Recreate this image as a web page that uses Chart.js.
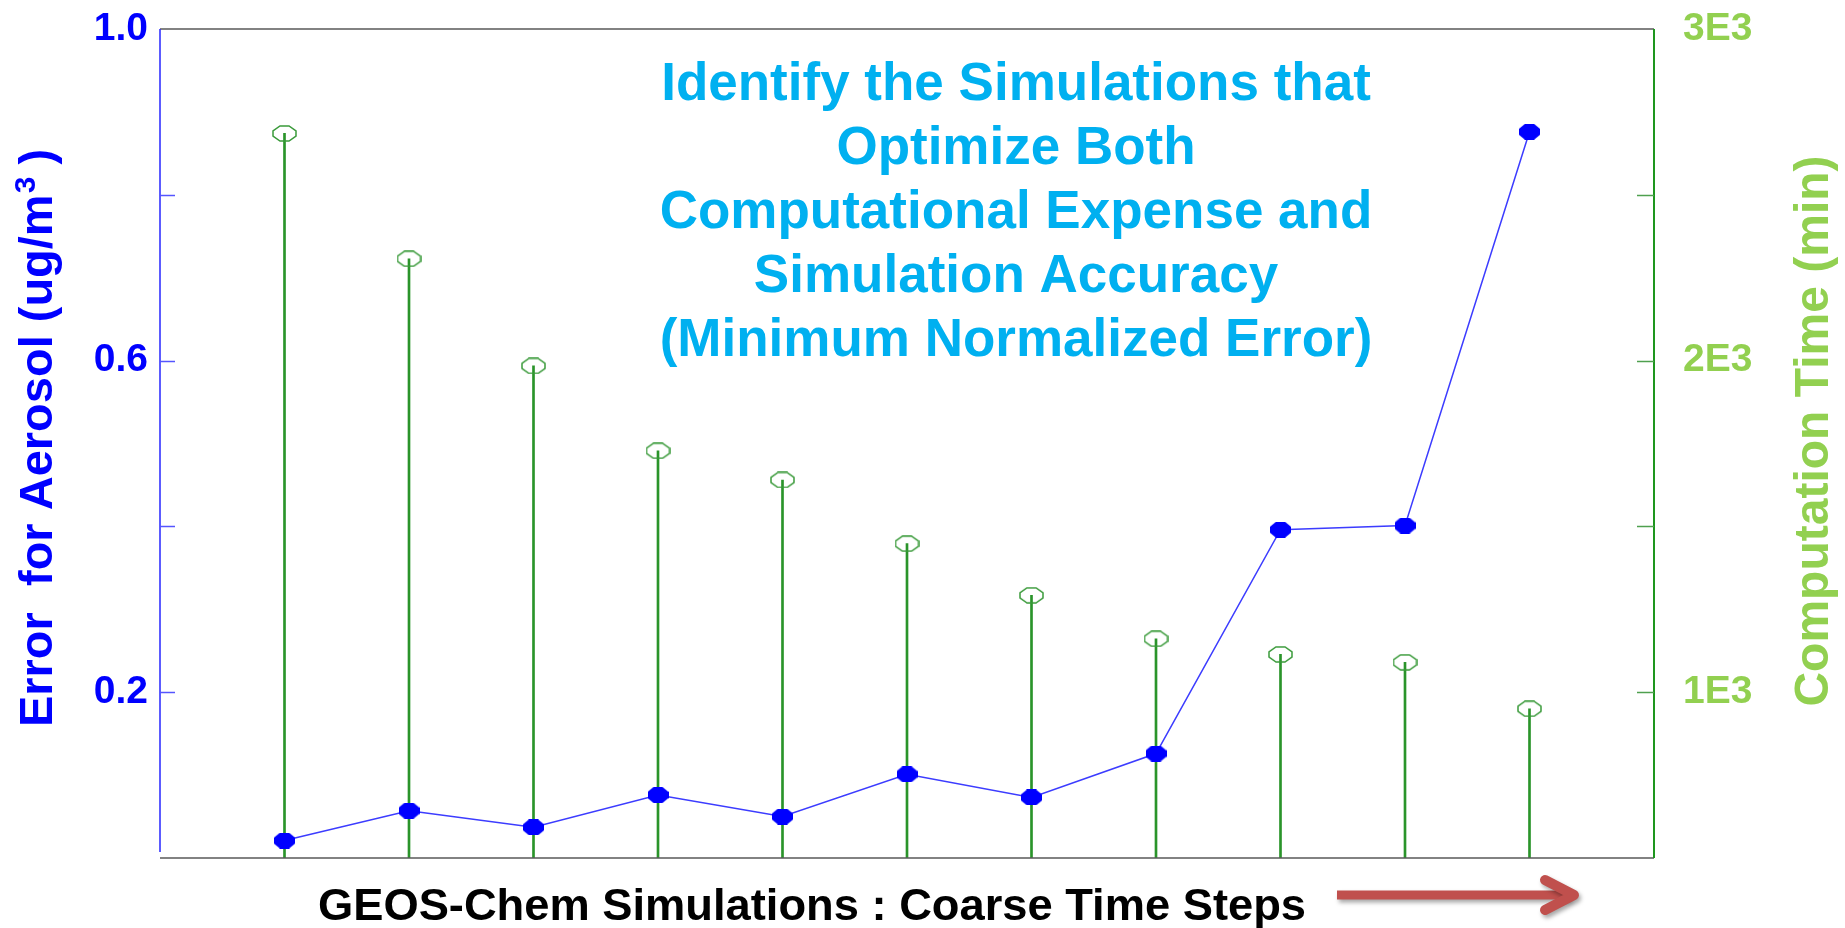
<!DOCTYPE html>
<html>
<head>
<meta charset="utf-8">
<script src="https://cdn.jsdelivr.net/npm/chart.js@4.4.1/dist/chart.umd.min.js"></script>
<style>
  html, body { margin: 0; padding: 0; background: #ffffff; }
  canvas { display: block; }
</style>
</head>
<body>
<canvas id="c" width="1845" height="928"></canvas>
<script>
// ---- data ----
const categories = [1, 2, 3, 4, 5, 6, 7, 8, 9, 10, 11];
const errorValues = [0.021, 0.057, 0.037, 0.076, 0.050, 0.101, 0.073, 0.126, 0.396, 0.401, 0.876];
const timeValues = [2685, 2307, 1984, 1728, 1640, 1448, 1292, 1161, 1114, 1090, 950];
const leftTickValues = [0.2, 0.6, 1.0];
const leftTickLabels = ['0.2', '0.6', '1.0'];
const rightTickValues = [1000, 2000, 3000];
const rightTickLabels = ['1E3', '2E3', '3E3'];
const titleLines = [
  'Identify the Simulations that',
  'Optimize Both',
  'Computational Expense and',
  'Simulation Accuracy',
  '(Minimum Normalized Error)'
];
const xTitle = 'GEOS-Chem Simulations : Coarse Time Steps';
const leftTitleMain = 'Error  for Aerosol (ug/m';
const leftTitleSup = '3';
const leftTitleEnd = ' )';
const rightTitle = 'Computation Time (min)';

const FONT = '"Liberation Sans", Arial, sans-serif';
Chart.defaults.font.family = FONT;

function makeMarker(w, h, pts, fill, stroke, lw) {
  const cv = document.createElement('canvas');
  cv.width = w; cv.height = h;
  const g = cv.getContext('2d');
  g.beginPath();
  pts.forEach((p, i) => i ? g.lineTo(p[0], p[1]) : g.moveTo(p[0], p[1]));
  g.closePath();
  if (fill) { g.fillStyle = fill; g.fill(); }
  if (stroke) { g.strokeStyle = stroke; g.lineWidth = lw; g.stroke(); }
  return cv;
}
const blueMarker = makeMarker(21, 16,
  [[6,0],[15,0],[21,5],[21,11],[15,16],[6,16],[0,11],[0,5]], '#0000ff', null, 0);
const greenMarker = makeMarker(25, 17,
  [[8,1],[17,1],[24,6],[24,11],[17,16],[8,16],[1,11],[1,6]], null, '#3a9a3a', 1.5);

function lookup(v, vals, labels) {
  for (let i = 0; i < vals.length; i++) if (Math.abs(v - vals[i]) < 1e-6) return labels[i];
  return '';
}

const decor = {
  id: 'decor',
  afterDraw(chart) {
    const ctx = chart.ctx;
    const a = chart.chartArea;
    const yL = chart.scales.y, yR = chart.scales.y1;
    ctx.save();
    // frame
    ctx.lineWidth = 1.6;
    ctx.strokeStyle = '#5a5a5a';
    ctx.beginPath();
    ctx.moveTo(a.left, a.top); ctx.lineTo(a.right, a.top);
    ctx.moveTo(a.left, a.bottom); ctx.lineTo(a.right, a.bottom);
    ctx.stroke();
    ctx.strokeStyle = '#3333ff';
    ctx.beginPath(); ctx.moveTo(a.left, a.top); ctx.lineTo(a.left, a.bottom - 6); ctx.stroke();
    ctx.strokeStyle = '#1e961e';
    ctx.lineWidth = 2;
    ctx.beginPath(); ctx.moveTo(a.right, a.top); ctx.lineTo(a.right, a.bottom); ctx.stroke();
    // inward ticks
    ctx.lineWidth = 1.5;
    ctx.strokeStyle = '#5555ff';
    yL.ticks.forEach(t => {
      if (t.value <= yL.min + 1e-9 || t.value >= yL.max - 1e-9) return;
      const py = Math.round(yL.getPixelForValue(t.value)) + 0.5;
      ctx.beginPath(); ctx.moveTo(a.left, py); ctx.lineTo(a.left + 15, py); ctx.stroke();
    });
    ctx.strokeStyle = '#4fa04f';
    yR.ticks.forEach(t => {
      if (t.value <= yR.min + 1e-9 || t.value >= yR.max - 1e-9) return;
      const py = Math.round(yR.getPixelForValue(t.value)) + 0.5;
      ctx.beginPath(); ctx.moveTo(a.right, py); ctx.lineTo(a.right - 17, py); ctx.stroke();
    });

    // title block
    ctx.fillStyle = '#00b0f0';
    ctx.font = 'bold 53px ' + FONT;
    ctx.textAlign = 'center';
    ctx.textBaseline = 'alphabetic';
    titleLines.forEach((s, i) => ctx.fillText(s, 1016, 100 + 64 * i));

    // x title
    ctx.fillStyle = '#000000';
    ctx.font = 'bold 44px ' + FONT;
    const w = ctx.measureText(xTitle).width;
    const sx = 988 / w;
    ctx.save();
    ctx.translate(812, 920);
    ctx.scale(sx, 1);
    ctx.textAlign = 'center';
    ctx.fillText(xTitle, 0, 0);
    ctx.restore();

    // left axis title
    ctx.save();
    ctx.fillStyle = '#0000ff';
    ctx.translate(52, 438);
    ctx.rotate(-Math.PI / 2);
    ctx.textAlign = 'left';
    const fMain = 'bold 47px ' + FONT, fSup = 'bold 30px ' + FONT;
    ctx.font = fMain; const w1 = ctx.measureText(leftTitleMain).width;
    const w3 = ctx.measureText(leftTitleEnd).width;
    ctx.font = fSup; const w2 = ctx.measureText(leftTitleSup).width;
    let x0 = -(w1 + w2 + w3) / 2;
    ctx.font = fMain; ctx.fillText(leftTitleMain, x0, 0);
    ctx.font = fSup; ctx.fillText(leftTitleSup, x0 + w1 + 1, -17);
    ctx.font = fMain; ctx.fillText(leftTitleEnd, x0 + w1 + w2, 0);
    ctx.restore();

    // right axis title
    ctx.save();
    ctx.fillStyle = '#92d050';
    ctx.translate(1828, 431);
    ctx.rotate(-Math.PI / 2);
    ctx.textAlign = 'center';
    ctx.font = 'bold 48px ' + FONT;
    ctx.fillText(rightTitle, 0, 0);
    ctx.restore();

    // red arrow
    ctx.save();
    ctx.strokeStyle = '#c0504d';
    ctx.shadowColor = 'rgba(0,0,0,0.35)';
    ctx.shadowBlur = 4; ctx.shadowOffsetX = 2; ctx.shadowOffsetY = 3;
    ctx.lineWidth = 9; ctx.lineCap = 'butt';
    ctx.beginPath(); ctx.moveTo(1337, 895); ctx.lineTo(1570, 895); ctx.stroke();
    ctx.lineWidth = 10; ctx.lineCap = 'round'; ctx.lineJoin = 'round';
    ctx.beginPath(); ctx.moveTo(1545, 880); ctx.lineTo(1574, 895); ctx.lineTo(1545, 910); ctx.stroke();
    ctx.restore();

    ctx.restore();
  }
};

new Chart(document.getElementById('c'), {
  type: 'line',
  data: {
    datasets: [
      {
        type: 'line',
        label: 'Error',
        data: categories.map((c, i) => ({ x: c, y: errorValues[i] })),
        yAxisID: 'y',
        borderColor: '#3c3cff',
        borderWidth: 1.5,
        pointStyle: blueMarker,
        pointRadius: 10,
        tension: 0,
        order: 0
      },
      {
        type: 'line',
        label: 'Time markers',
        data: categories.map((c, i) => ({ x: c, y: timeValues[i] })),
        yAxisID: 'y1',
        showLine: false,
        pointStyle: greenMarker,
        pointRadius: 10,
        order: 1
      },
      {
        type: 'bar',
        label: 'Time',
        data: categories.map((c, i) => ({ x: c, y: timeValues[i] })),
        yAxisID: 'y1',
        backgroundColor: '#2a942a',
        borderWidth: 0,
        barThickness: 2,
        order: 2
      }
    ]
  },
  options: {
    responsive: false,
    devicePixelRatio: 1,
    animation: false,
    layout: { padding: { top: 29, bottom: 70, left: 0, right: 0 } },
    plugins: { legend: { display: false }, tooltip: { enabled: false } },
    scales: {
      x: {
        type: 'linear', min: 0, max: 12, offset: false, display: false
      },
      y: {
        type: 'linear', position: 'left', min: 0, max: 1,
        grid: { display: false },
        border: { display: false },
        ticks: {
          stepSize: 0.2, autoSkip: false, padding: 4,
          color: '#0000ff', font: { size: 39, weight: 'bold' },
          callback: v => lookup(v, leftTickValues, leftTickLabels)
        },
        afterFit: s => { s.width = 160; s.paddingTop = 0; s.paddingBottom = 0; }
      },
      y1: {
        type: 'linear', position: 'right', min: 500, max: 3000,
        grid: { display: false },
        border: { display: false },
        ticks: {
          stepSize: 500, autoSkip: false, padding: 21,
          color: '#92d050', font: { size: 39, weight: 'bold' },
          callback: v => lookup(v, rightTickValues, rightTickLabels)
        },
        afterFit: s => { s.width = 191; s.paddingTop = 0; s.paddingBottom = 0; }
      }
    }
  },
  plugins: [decor]
});
</script>
</body>
</html>
